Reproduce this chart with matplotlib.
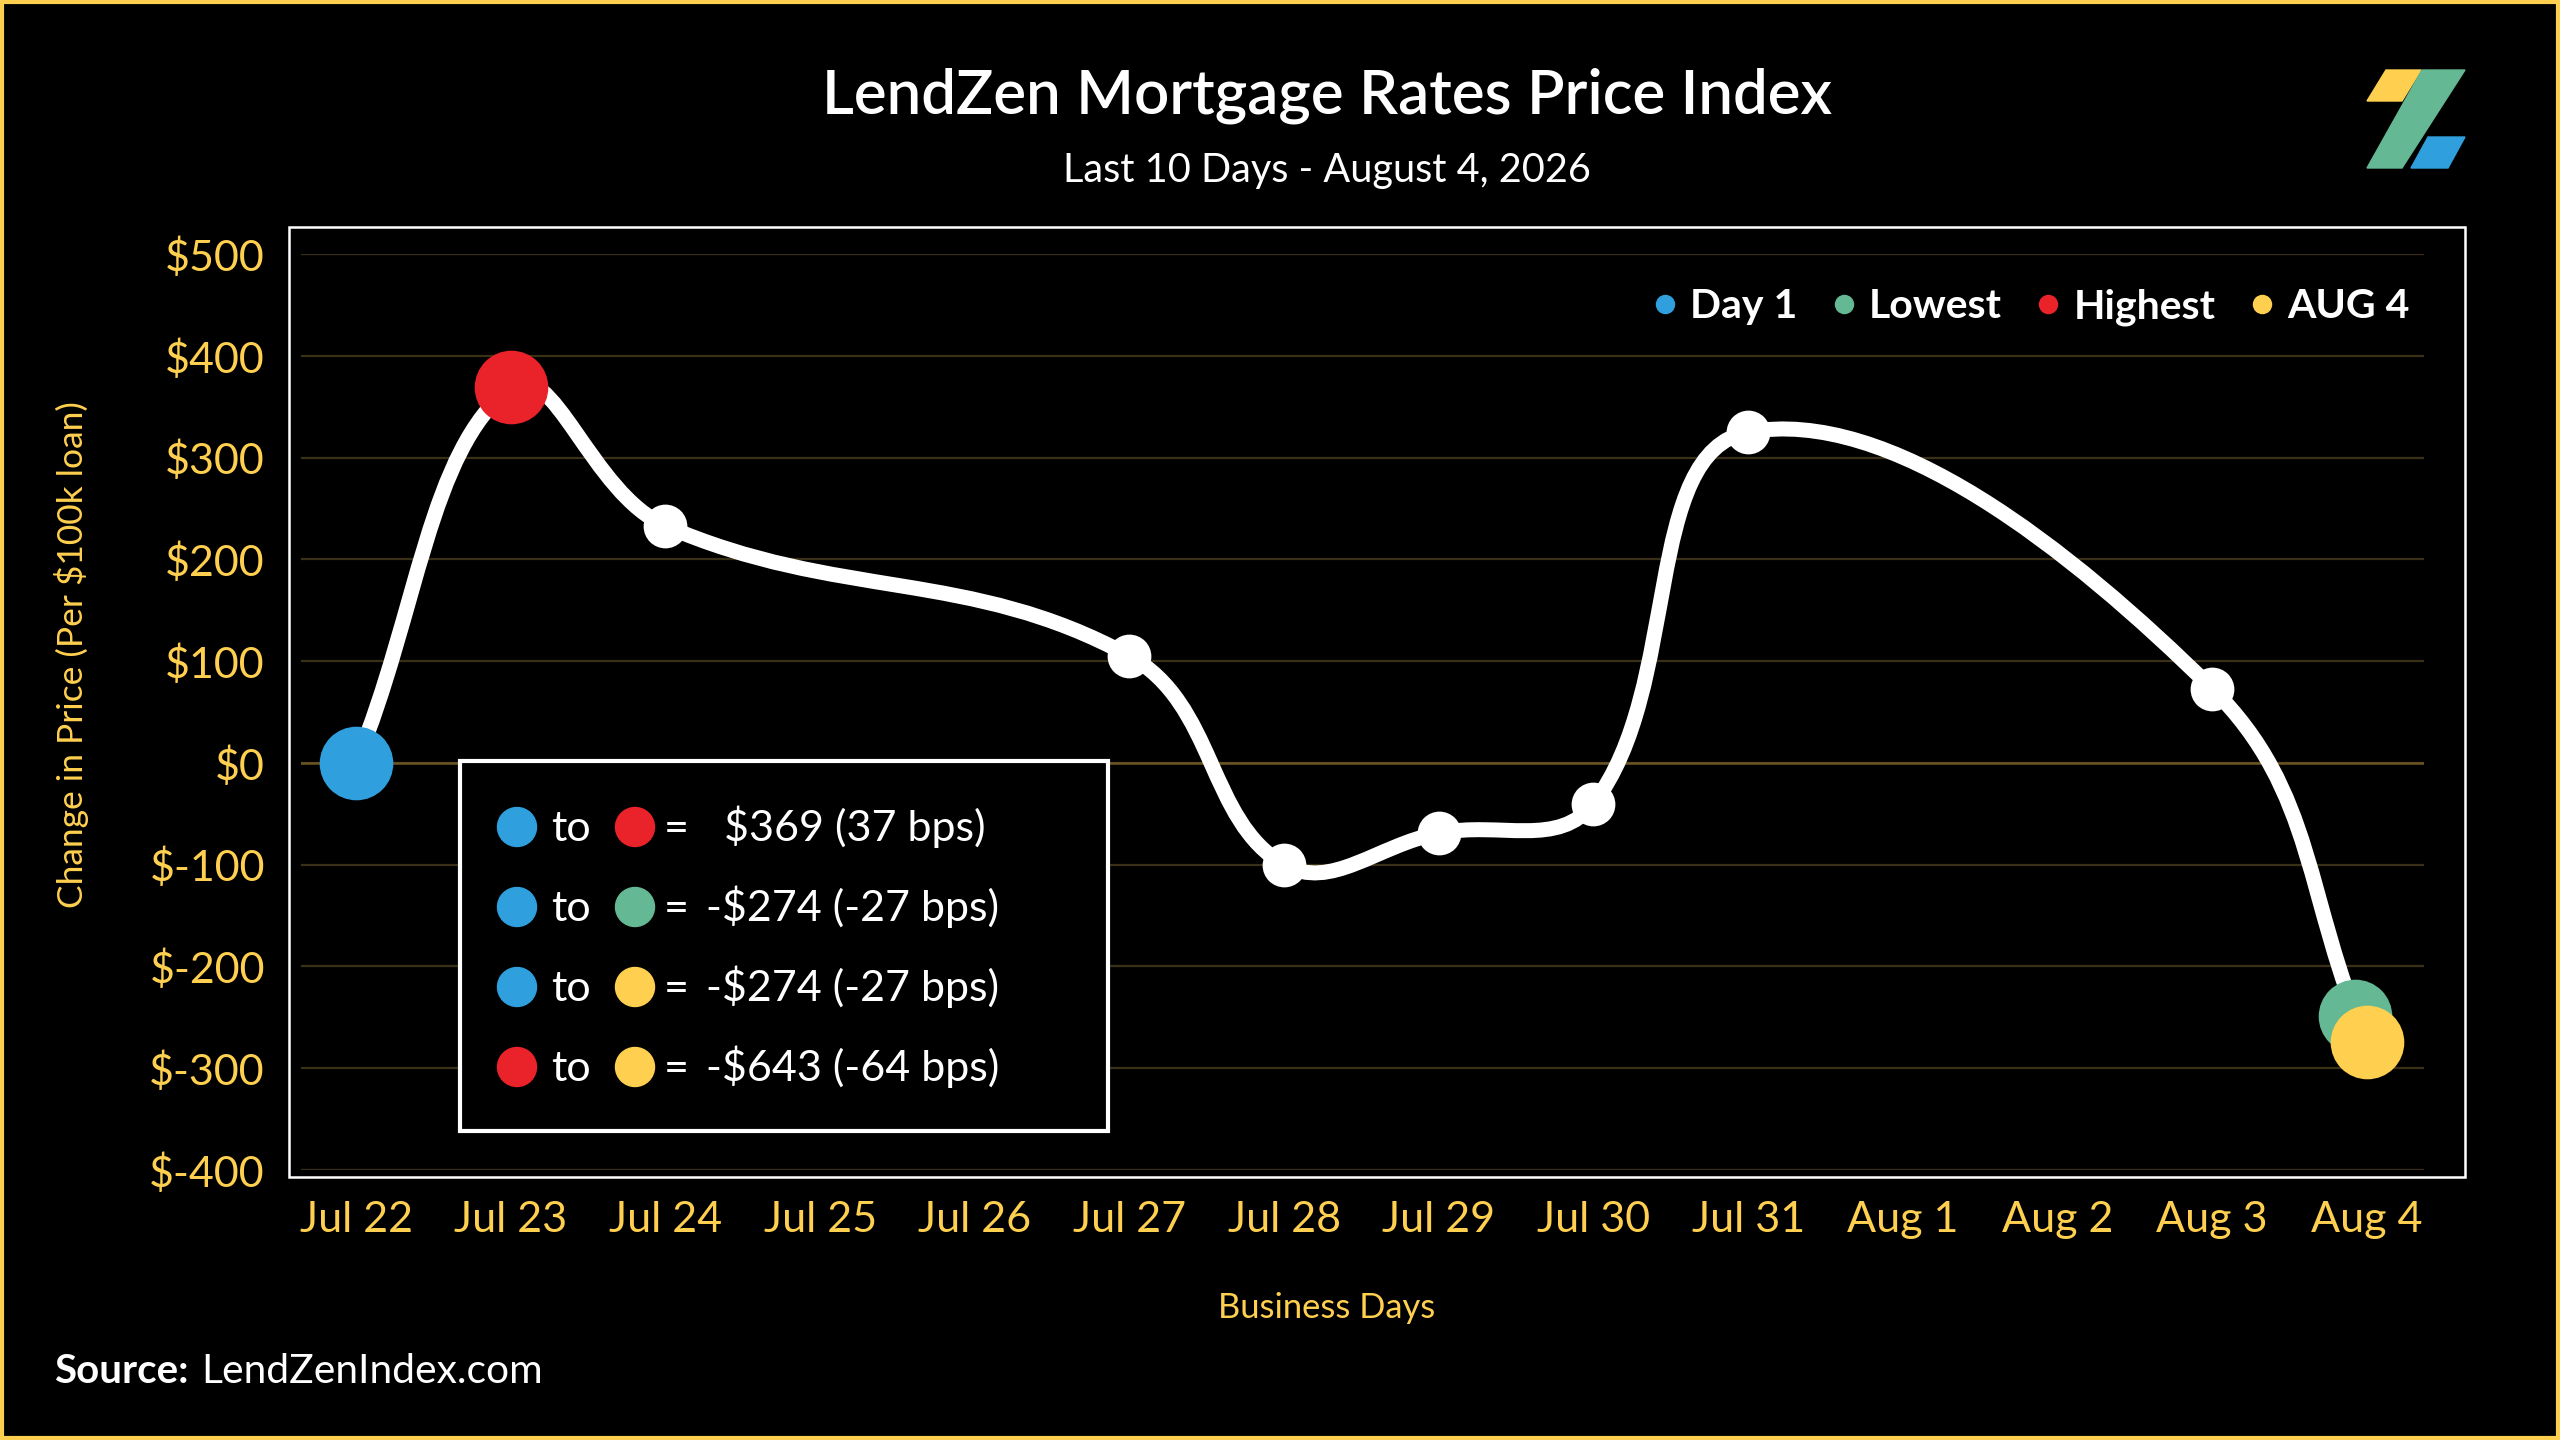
import numpy as np
import matplotlib.pyplot as plt
import matplotlib.transforms as mtransforms
from matplotlib.lines import Line2D
from matplotlib.path import Path
from matplotlib.patches import PathPatch, Rectangle, Circle, Polygon

plt.rcParams['font.family'] = ['Lato', 'DejaVu Sans']

# data
calendar_days = ['Jul 22', 'Jul 23', 'Jul 24', 'Jul 25', 'Jul 26', 'Jul 27', 'Jul 28',
                 'Jul 29', 'Jul 30', 'Jul 31', 'Aug 1', 'Aug 2', 'Aug 3', 'Aug 4']
business_days = ['Jul 22', 'Jul 23', 'Jul 24', 'Jul 27', 'Jul 28', 'Jul 29', 'Jul 30',
                 'Jul 31', 'Aug 3', 'Aug 4']
price_change = [0, 369, 233, 105, -100, -69, -40, 325, 73, -274]
y_ticks = [500, 400, 300, 200, 100, 0, -100, -200, -300, -400]
legend_labels = ['Day 1', 'Lowest', 'Highest', 'AUG 4']

GOLD = '#FFD04F'
BLUE = '#2FA0DD'
GREEN = '#64B893'
RED = '#EA2229'
YELLOW = '#FFD04F'
GRID = '#3A3018'
ZERO = '#6A5522'

W, H = 2560, 1440
fig = plt.figure(figsize=(W / 100, H / 100), dpi=100, facecolor='black')

ax = fig.add_axes([301 / W, 1 - 1170 / H, 2123 / W, 916 / H])
ax.set_facecolor('black')
ax.set_xlim(-0.356, 13.37)
ax.set_ylim(-400, 500)
for s in ax.spines.values():
    s.set_visible(False)
ax.set_xticks(range(len(calendar_days)))
ax.set_xticklabels(calendar_days)
ax.set_yticks(y_ticks)
ax.set_yticklabels([f'${v}' for v in y_ticks])
ax.tick_params(length=0, colors=GOLD, labelsize=31)
ax.tick_params(axis='x', pad=22)
ax.tick_params(axis='y', pad=26)
ax.grid(axis='y', color=GRID, lw=1.6)
ax.grid(axis='x', visible=False)
ax.axhline(0, color=ZERO, lw=1.8, zorder=1)
ax.set_axisbelow(True)

# smooth line, chart.js style bezier with tension 0.4 (in pixel space)
xs = np.array([calendar_days.index(d) for d in business_days], dtype=float)
ys = np.array(price_change, dtype=float)
pts = ax.transData.transform(np.column_stack([xs, ys]))
tension = 0.4
n = len(pts)
cp_in, cp_out = [], []
for i in range(n):
    p0 = pts[max(i - 1, 0)]
    p1 = pts[i]
    p2 = pts[min(i + 1, n - 1)]
    d01 = np.hypot(*(p1 - p0))
    d12 = np.hypot(*(p2 - p1))
    s01 = d01 / (d01 + d12)
    s12 = d12 / (d01 + d12)
    cp_in.append(p1 - tension * s01 * (p2 - p0))
    cp_out.append(p1 + tension * s12 * (p2 - p0))
verts = [pts[0]]
codes = [Path.MOVETO]
for i in range(1, n):
    verts += [cp_out[i - 1], cp_in[i], pts[i]]
    codes += [Path.CURVE4] * 3
curve = Path(ax.transData.inverted().transform(np.array(verts)), codes)
ax.add_patch(PathPatch(curve, fill=False, ec='white', lw=10.8,
                       capstyle='round', joinstyle='round', zorder=3))

# markers
ax.plot(xs, ys, 'o', color='white', ms=31.5, mec='none', zorder=4, clip_on=False)
i_hi = int(np.argmax(ys))
i_lo = int(np.argmin(ys))
big = 53
ax.plot(xs[0], ys[0], 'o', color=BLUE, ms=big, mec='none', zorder=5, clip_on=False)
ax.plot(xs[i_hi], ys[i_hi], 'o', color=RED, ms=big, mec='none', zorder=5, clip_on=False)
shift = ax.transData + mtransforms.ScaledTranslation(-0.12, 0.26, fig.dpi_scale_trans)
ax.plot(xs[i_lo], ys[i_lo], 'o', color=GREEN, ms=big, mec='none', zorder=5,
        clip_on=False, transform=shift)
ax.plot(xs[-1], ys[-1], 'o', color=YELLOW, ms=big, mec='none', zorder=6, clip_on=False)

handles = [Line2D([], [], ls='', marker='o', ms=14, color=c, mec='none')
           for c in [BLUE, GREEN, RED, YELLOW]]
ax.legend(handles, legend_labels, ncol=4, loc='center right',
          bbox_to_anchor=(2410 / W, 1 - 307 / H), bbox_transform=fig.transFigure,
          frameon=False, prop={'weight': 'bold', 'size': 29.5}, labelcolor='white',
          handlelength=0.65, handletextpad=0.3, columnspacing=0.8,
          borderpad=0, borderaxespad=0)

# overlay in pixel units for frame, box, logo
ov = fig.add_axes([0, 0, 1, 1])
ov.set_xlim(0, W)
ov.set_ylim(H, 0)
ov.axis('off')

ov.add_patch(Rectangle((2, 2), W - 4, H - 4, fill=False, ec=GOLD, lw=3))
ov.add_patch(Rectangle((289, 227), 2465 - 289, 1177 - 227, fill=False, ec='white', lw=1.8))

# comparison box
ov.add_patch(Rectangle((460, 761), 648, 370, fc='black', ec='white', lw=3, zorder=2))
color_of = {'Day 1': BLUE, 'Lowest': GREEN, 'Highest': RED, 'AUG 4': YELLOW}
value_of = {'Day 1': ys[0], 'Lowest': ys[i_lo], 'Highest': ys[i_hi], 'AUG 4': ys[-1]}
pairs = [('Day 1', 'Highest'), ('Day 1', 'Lowest'), ('Day 1', 'AUG 4'), ('Highest', 'AUG 4')]
for k, (a, b) in enumerate(pairs):
    y = 827 + k * 80
    diff = int(round(value_of[b] - value_of[a]))
    bps = int(round(diff / 10))
    money = f'${diff}' if diff >= 0 else f'-${-diff}'
    ov.add_patch(Circle((517, y), 19.5, color=color_of[a], zorder=3))
    ov.add_patch(Circle((635, y), 19.5, color=color_of[b], zorder=3))
    ov.text(551, y + 14, 'to', color='white', size=31, va='baseline', zorder=3)
    ov.text(664, y + 14, '=', color='white', size=31, va='baseline', zorder=3)
    ov.text(724 if diff >= 0 else 706, y + 14, f'{money} ({bps} bps)', color='white',
            size=31, va='baseline', zorder=3)

# logo
ov.add_patch(Polygon([(2386, 70), (2421, 70), (2402, 101), (2367, 101)], color=YELLOW))
ov.add_patch(Polygon([(2422, 70), (2465, 70), (2402, 168), (2367, 168)], color=GREEN))
ov.add_patch(Polygon([(2428, 137), (2465, 137), (2448, 168), (2411, 168)], color=BLUE))

# titles and labels
ov.text(1327, 113, 'LendZen Mortgage Rates Price Index', color='white', size=44.5,
        weight='semibold', ha='center', va='baseline')
ov.text(1327, 182, 'Last 10 Days - August 4, 2026', color='white', size=28.5,
        ha='center', va='baseline')
ov.text(1327, 1308, 'Business Days', color=GOLD, size=24.8, ha='center', va='center')
ov.text(72, 655, 'Change in Price (Per $100k loan)', color=GOLD, size=25.5,
        rotation=90, ha='center', va='center')
ov.text(54, 1383, 'Source:', color='white', size=29, weight='bold', va='baseline')
ov.text(201, 1383, 'LendZenIndex.com', color='white', size=29.3, va='baseline')

fig.savefig('out.png', dpi=100, facecolor='black')
